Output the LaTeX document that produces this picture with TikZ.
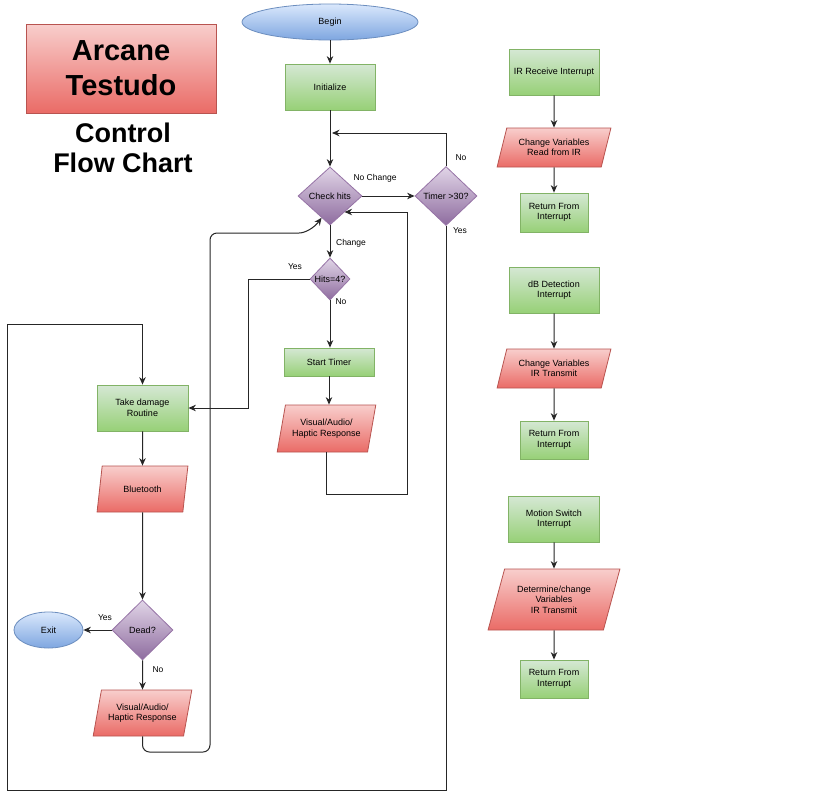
\documentclass[tikz,border=0pt]{standalone}
\usepackage{fontspec}
\setmainfont{Liberation Sans}
\usetikzlibrary{shapes.geometric,arrows.meta,calc}
\definecolor{gtop}{HTML}{D5E8D4}\definecolor{gbot}{HTML}{97D077}\definecolor{gline}{HTML}{82B366}
\definecolor{rtop}{HTML}{F8CECC}\definecolor{rbot}{HTML}{EA6B66}\definecolor{rline}{HTML}{B85450}
\definecolor{btop}{HTML}{DAE8FC}\definecolor{bbot}{HTML}{7EA6E0}\definecolor{bline}{HTML}{6C8EBF}
\definecolor{ptop}{HTML}{E1D5E7}\definecolor{pbot}{HTML}{8E6C9F}\definecolor{pline}{HTML}{9673A6}
\tikzset{
  base/.style={inner sep=0pt, align=center, font=\fontsize{9}{10.5}\selectfont, line width=0.8pt},
  gbox/.style={base, rectangle, draw=gline, top color=gtop, bottom color=gbot, minimum width=#1},
  gbox/.default=90pt,
  rpara/.style={base, trapezium, trapezium stretches=true, trapezium left angle=#1, trapezium right angle=180-#1, draw=rline, top color=rtop, bottom color=rbot},
  rpara/.default=70,
  oval/.style={base, ellipse, draw=bline, top color=btop, bottom color=bbot},
  dia/.style={base, diamond, draw=pline, top color=ptop, bottom color=pbot},
  arr/.style={line width=1pt, draw=black!85, -{Stealth[length=7.5pt,width=6.5pt]}},
  lbl/.style={font=\fontsize{8.5}{10}\selectfont, inner sep=0pt},
}
\begin{document}
\begin{tikzpicture}[x=1pt,y=-1pt]
\useasboundingbox[fill=white] (0,0) rectangle (819,801);
% title
\node[base, draw=rline, top color=rtop, bottom color=rbot, minimum width=190pt, minimum height=89pt,
      font=\fontsize{29}{35}\selectfont\bfseries] (title) at (121,68.5) {Arcane\\Testudo};
\node[align=center, inner sep=0pt, font=\fontsize{27}{30}\selectfont\bfseries] (sub) at (123,148) {Control\\Flow Chart};
% main flow
\node[oval, minimum width=176pt, minimum height=36pt] (begin) at (330,22) {Begin};
\node[gbox, minimum height=46pt] (init) at (330,87) {Initialize};
\node[dia, minimum width=64pt, minimum height=58pt, label={[base]center:Check hits}] (check) at (330,196) {};
\node[dia, minimum width=62pt, minimum height=59pt, label={[base]center:Timer >30?}] (timer) at (446,196) {};
\node[dia, minimum width=40pt, minimum height=42pt, label={[base]center:Hits=4?}] (hits) at (330,279) {};
\node[gbox, minimum height=28pt] (start) at (329,362) {Start Timer};
\node[rpara, minimum width=99pt, minimum height=47pt] (vis1) at (326.5,428.5) {Visual/Audio/\\Haptic Response};
\node[gbox=91pt, minimum height=46pt] (take) at (142.5,408) {Take damage\\Routine};
\node[rpara, minimum width=91pt, minimum height=46pt] (bt) at (142.5,489) {Bluetooth};
\node[dia, minimum width=61pt, minimum height=60pt, label={[base]center:Dead?}] (dead) at (142.5,630) {};
\node[oval, minimum width=69pt, minimum height=36pt] (exit) at (48.5,630) {Exit};
\node[rpara, minimum width=99pt, minimum height=46pt] (vis2) at (142.5,713) {Visual/Audio/\\Haptic Response};
% right column
\node[gbox, minimum height=46pt] (ir) at (554,72) {IR Receive Interrupt};
\node[rpara=67, minimum width=114pt, minimum height=39pt] (chv1) at (554,147.5) {Change Variables\\Read from IR};
\node[gbox=68pt, minimum height=39pt] (ret1) at (554,212.5) {Return From\\Interrupt};
\node[gbox, minimum height=46pt] (db) at (554,290) {dB Detection\\Interrupt};
\node[rpara=67, minimum width=114pt, minimum height=39pt] (chv2) at (554,368.5) {Change Variables\\IR Transmit};
\node[gbox=68pt, minimum height=38pt] (ret2) at (554,440) {Return From\\Interrupt};
\node[gbox=91pt, minimum height=46pt] (motion) at (554,519) {Motion Switch\\Interrupt};
\node[rpara=66, minimum width=133pt, minimum height=61pt] (det) at (554,599.5) {Determine/change\\Variables\\IR Transmit};
\node[gbox=68pt, minimum height=38pt] (ret3) at (554,679) {Return From\\Interrupt};
% coordinates
\coordinate (j1) at (332,133);
\coordinate (yb) at (446,790);
\coordinate (yl) at (7,790);
\coordinate (yt) at (7,324);
\coordinate (h1) at (248,279);
\coordinate (v2) at (407,494);
\coordinate (v3) at (407,212);
\coordinate (c1) at ($(check.east)!0.55!(check.south)$);
\coordinate (c2) at ($(check.west)!0.74!(check.south)$);
\coordinate (w1) at (142.5,752);
\coordinate (w2) at (210,752);
\coordinate (w3) at (210,233);
\coordinate (w4) at (292,233);
% connectors
\draw[arr] (begin) -- (init);
\draw[arr] (init) -- (check);
\draw[arr] (check.east) -- (timer.west);
\node[lbl] (lnc) at (375,178) {No Change};
\draw[arr] (timer.north) |- (j1);
\node[lbl] (lno1) at (461,158) {No};
\draw[arr] (timer.south) -- (yb) -- (yl) -- (yt) -| (take.north);
\node[lbl] (lyes1) at (460,231) {Yes};
\draw[arr] (check.south) -- (hits.north);
\node[lbl] (lch) at (351,243) {Change};
\draw[arr] (hits.west) -- (h1) |- (take.east);
\node[lbl] (lyes2) at (295,267) {Yes};
\draw[arr] (hits.south) -- (hits.south |- start.north);
\node[lbl] (lno2) at (341,302) {No};
\draw[arr] (start.south) -- (start.south |- vis1.north);
\draw[arr] (vis1.south) |- (v2) -- (v3) -- (c1 |- v3);
\draw[arr, rounded corners=7pt] (vis2.south) -- (w1) -- (w2) -- (w3) -- (w4) .. controls (305,233) and (314,228) .. (c2);
\draw[arr] (take.south) -- (bt.north);
\draw[arr] (bt.south) -- (dead.north);
\draw[arr] (dead.west) -- (exit.east);
\node[lbl] (lyes3) at (105,618) {Yes};
\draw[arr] (dead.south) -- (vis2.north);
\node[lbl] (lno3) at (158,670) {No};
\draw[arr] (ir) -- (chv1);
\draw[arr] (chv1) -- (ret1);
\draw[arr] (db) -- (chv2);
\draw[arr] (chv2) -- (ret2);
\draw[arr] (motion) -- (det);
\draw[arr] (det) -- (ret3);
\end{tikzpicture}
\end{document}
